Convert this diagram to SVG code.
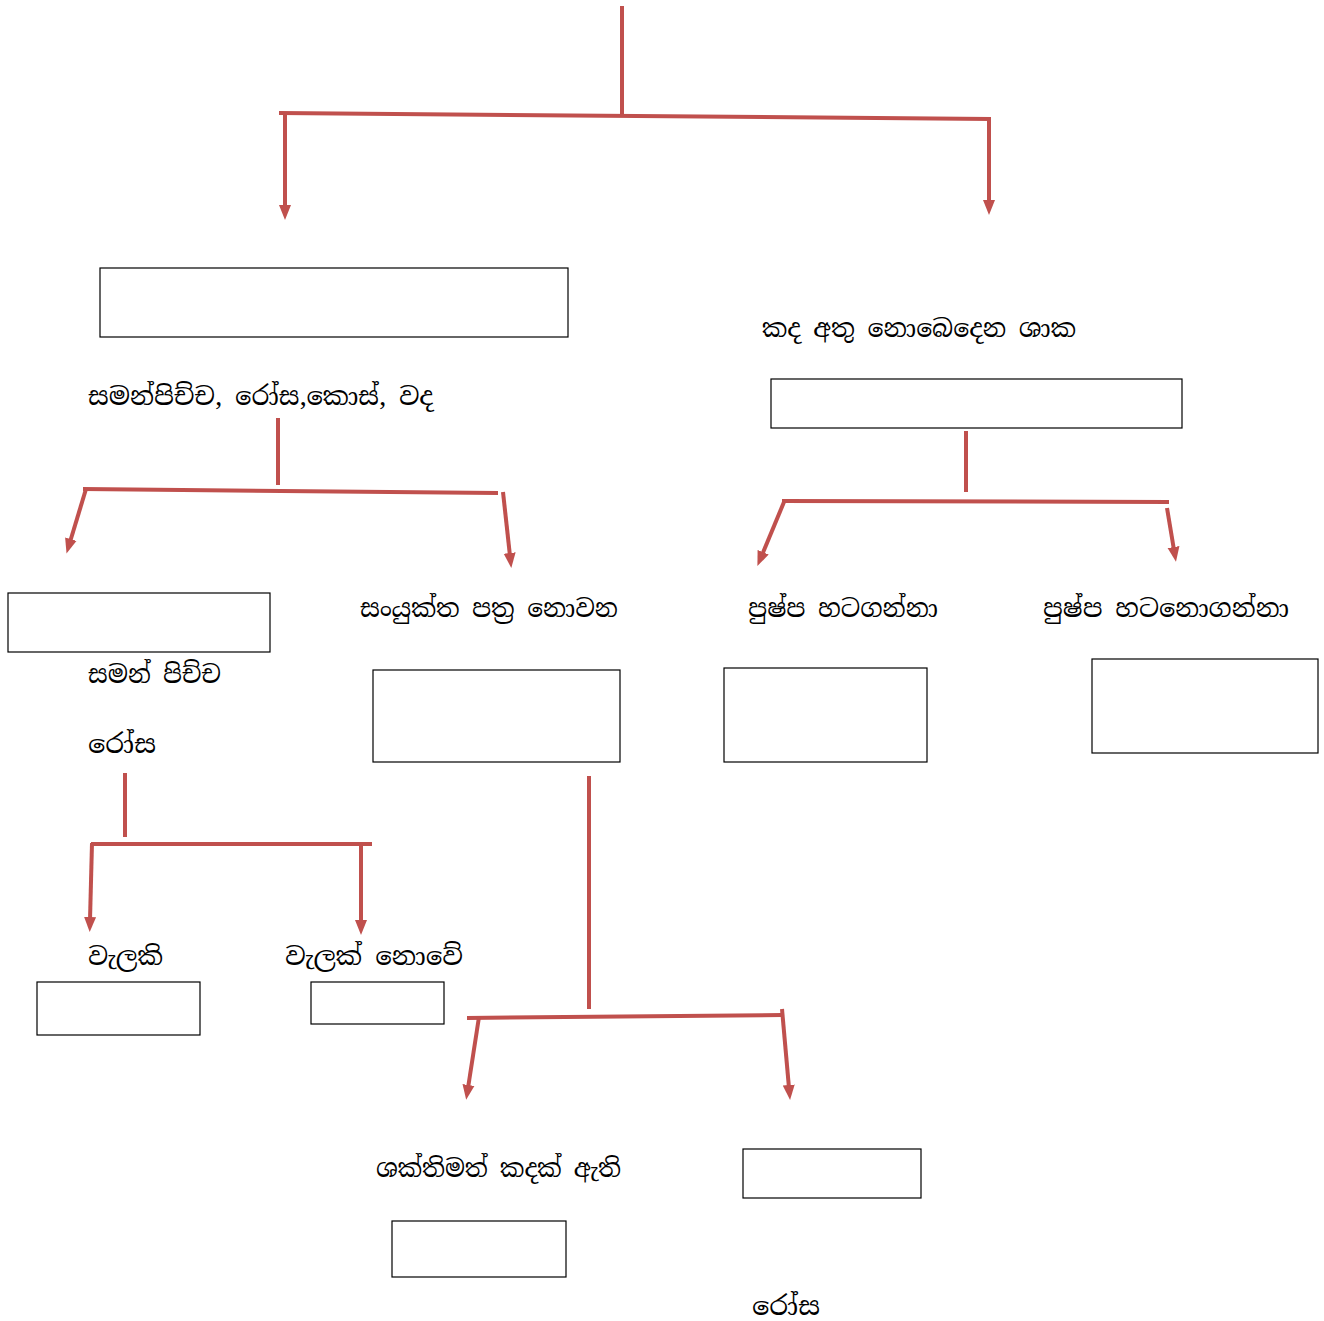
<svg xmlns="http://www.w3.org/2000/svg" width="1324" height="1321" viewBox="0 0 1324 1321">
<style>
.box{fill:#fff;stroke:#000;stroke-width:1.2}
.ln{fill:none;stroke:#C0504D;stroke-width:4;stroke-linecap:butt}
.ar{fill:none;stroke:#C0504D;stroke-width:4;marker-end:url(#ah)}
text{font-family:"Iskoola Pota","Noto Serif Sinhala","Noto Sans Sinhala","Noto Sans",sans-serif;font-size:25px;fill:#000}
</style>
<defs>
<marker id="ah" markerUnits="userSpaceOnUse" markerWidth="16" markerHeight="14" viewBox="0 0 16 14" refX="3" refY="7" orient="auto">
<path d="M0,1 L15,7 L0,13 z" fill="#C0504D"/>
</marker>
</defs>
<rect width="1324" height="1321" fill="#fff"/>
<g id="connectors">
<line class="ln" x1="622" y1="6" x2="622" y2="116"/>
<line class="ln" x1="279" y1="113" x2="991" y2="119"/>
<line class="ar" x1="285" y1="113" x2="285" y2="208"/>
<line class="ar" x1="989" y1="118" x2="989" y2="203"/>
<line class="ln" x1="278" y1="418" x2="278" y2="485"/>
<line class="ln" x1="83" y1="489" x2="498" y2="493"/>
<line class="ar" x1="86" y1="489" x2="70" y2="542"/>
<line class="ar" x1="503" y1="492" x2="510" y2="556"/>
<line class="ln" x1="966" y1="431" x2="966" y2="492"/>
<line class="ln" x1="782" y1="501" x2="1169" y2="502"/>
<line class="ar" x1="784" y1="502" x2="762" y2="555"/>
<line class="ar" x1="1167" y1="508" x2="1174" y2="550"/>
<line class="ln" x1="125" y1="773" x2="125" y2="837"/>
<line class="ln" x1="91" y1="844" x2="372" y2="844"/>
<line class="ar" x1="92" y1="843" x2="90" y2="920"/>
<line class="ar" x1="361" y1="843" x2="361" y2="923"/>
<line class="ln" x1="589" y1="776" x2="589" y2="1009"/>
<line class="ln" x1="467" y1="1018" x2="782" y2="1015"/>
<line class="ar" x1="479" y1="1017" x2="468" y2="1088"/>
<line class="ar" x1="782" y1="1009" x2="789" y2="1088"/>
</g>
<g id="n1"><rect class="box" x="100" y="268" width="468" height="69"/></g>
<g id="n2"><text x="762" y="337" textLength="314" lengthAdjust="spacingAndGlyphs">කද අතු නොබෙදෙන ශාක</text></g>
<g id="n3"><rect class="box" x="771" y="379" width="411" height="49"/></g>
<g id="n4"><text x="88" y="405" textLength="345" lengthAdjust="spacingAndGlyphs">සමන්පිච්ච, රෝස,කොස්, වද</text></g>
<g id="n5"><rect class="box" x="8" y="593" width="262" height="59"/></g>
<g id="n6"><text x="88" y="683" textLength="133" lengthAdjust="spacingAndGlyphs">සමන් පිච්ච</text><text x="88" y="753" textLength="68" lengthAdjust="spacingAndGlyphs">රෝස</text></g>
<g id="n7"><text x="360" y="617" textLength="258" lengthAdjust="spacingAndGlyphs">සංයුක්ත පත්‍ර නොවන</text></g>
<g id="n8"><rect class="box" x="373" y="670" width="247" height="92"/></g>
<g id="n9"><text x="748" y="617" textLength="190" lengthAdjust="spacingAndGlyphs">පුෂ්ප හටගන්නා</text></g>
<g id="n10"><text x="1043" y="617" textLength="246" lengthAdjust="spacingAndGlyphs">පුෂ්ප හටනොගන්නා</text></g>
<g id="n11"><rect class="box" x="724" y="668" width="203" height="94"/></g>
<g id="n12"><rect class="box" x="1092" y="659" width="226" height="94"/></g>
<g id="n13"><text x="88" y="965" textLength="75" lengthAdjust="spacingAndGlyphs">වැලකි</text></g>
<g id="n14"><text x="285" y="965" textLength="178" lengthAdjust="spacingAndGlyphs">වැලක් නොවේ</text></g>
<g id="n15"><rect class="box" x="37" y="982" width="163" height="53"/></g>
<g id="n16"><rect class="box" x="311" y="982" width="133" height="42"/></g>
<g id="n17"><text x="376" y="1177" textLength="245" lengthAdjust="spacingAndGlyphs">ශක්තිමත් කදක් ඇති</text></g>
<g id="n18"><rect class="box" x="392" y="1221" width="174" height="56"/></g>
<g id="n19"><rect class="box" x="743" y="1149" width="178" height="49"/></g>
<g id="n20"><text x="752" y="1315" textLength="68" lengthAdjust="spacingAndGlyphs">රෝස</text></g>
</svg>
